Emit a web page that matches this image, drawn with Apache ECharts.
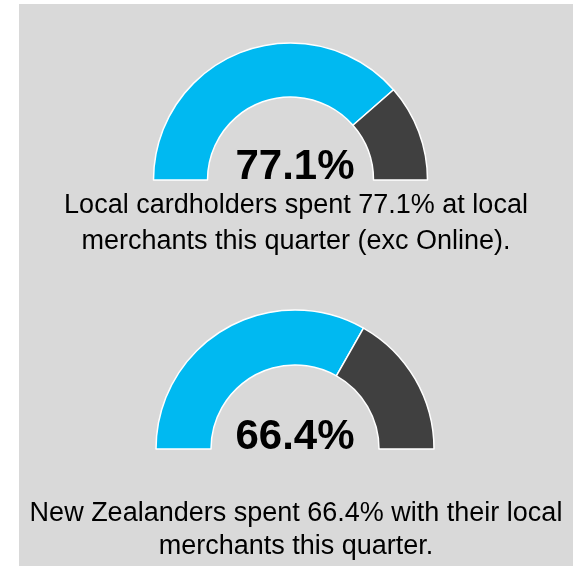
<!DOCTYPE html>
<html>
<head>
<meta charset="utf-8">
<script src="https://cdn.jsdelivr.net/npm/echarts@6/dist/echarts.min.js"></script>
<style>
  html, body { margin: 0; padding: 0; background: #ffffff; }
  #chart { width: 578px; height: 566px; }
</style>
</head>
<body>
<div id="chart"></div>
<script>
// Data
var gaugeNames = ['Local cardholders', 'New Zealanders'];
var localShare = [77.1, 66.4];
var otherShare = [22.9, 33.6];
var valueLabels = ['77.1%', '66.4%'];
var captions = [
  'Local cardholders spent 77.1% at local\nmerchants this quarter (exc Online).',
  'New Zealanders spent 66.4% with their local\nmerchants this quarter.'
];

var colors = ['#00b9f1', '#404040'];
var FONT = '"Liberation Sans", Arial, Helvetica, sans-serif';

var layout = [
  { center: [290.5, 180], radius: [83, 137], valueY: 167.8, capY: 223.6, capLH: 36 },
  { center: [295, 449], radius: [84, 139], valueY: 437.3, capY: 530, capLH: 33.5 }
];

var chart = echarts.init(document.getElementById('chart'), null, { renderer: 'canvas' });

var series = localShare.map(function (v, i) {
  return {
    type: 'pie',
    name: gaugeNames[i],
    center: layout[i].center,
    radius: layout[i].radius,
    startAngle: 180,
    endAngle: 0,
    clockwise: true,
    silent: true,
    animation: false,
    label: { show: false },
    labelLine: { show: false },
    itemStyle: { borderColor: '#ffffff', borderWidth: 1.5 },
    data: [
      { name: 'Local', value: v, itemStyle: { color: colors[0] } },
      { name: 'Other', value: otherShare[i], itemStyle: { color: colors[1] } }
    ]
  };
});

var graphics = [
  { type: 'rect', z: -10, silent: true, shape: { x: 19, y: 4, width: 554, height: 562 }, style: { fill: '#d9d9d9' } }
];
valueLabels.forEach(function (t, i) {
  graphics.push({
    type: 'text', z: 10, silent: true,
    style: { x: 295, y: layout[i].valueY, text: t, textAlign: 'center', textVerticalAlign: 'middle',
      font: 'bold 42px ' + FONT, fill: '#000000' }
  });
  graphics.push({
    type: 'text', z: 10, silent: true,
    style: { x: 296, y: layout[i].capY, text: captions[i], textAlign: 'center', textVerticalAlign: 'middle',
      font: '27px ' + FONT, lineHeight: layout[i].capLH, fill: '#000000' }
  });
});

chart.setOption({
  animation: false,
  backgroundColor: 'transparent',
  series: series,
  graphic: graphics
});
</script>
</body>
</html>
